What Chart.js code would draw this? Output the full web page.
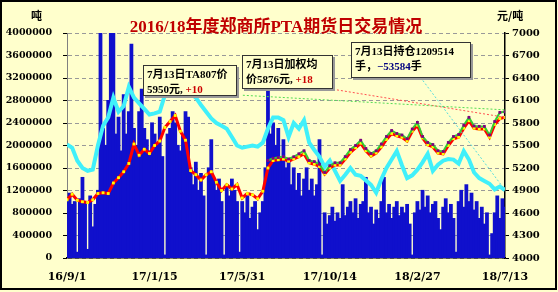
<!DOCTYPE html>
<html>
<head>
<meta charset="utf-8">
<script src="https://cdn.jsdelivr.net/npm/chart.js@4.4.1/dist/chart.umd.min.js"></script>
<style>
    body { margin: 0; background: #fff; }
    #wrap { position: relative; width: 558px; height: 292px; }
    #c { position: absolute; left: 0; top: 0; }
    .frame { position: absolute; left: 0; top: 0; width: 557px; height: 290px; border: 2px solid #000; box-sizing: border-box; pointer-events: none; }
    .title { position: absolute; left: 0; width: 552px; top: 12px; line-height: 20px; text-align: center; font: bold 17px "Liberation Serif", "Noto Sans CJK SC"; color: #C00000; }
    .unit { position: absolute; top: 8px; font: bold 11px "Noto Sans CJK SC"; line-height: 14px; }
    .box { position: absolute; border: 1.5px solid #333; background: #FFFFCC; box-shadow: 2px 2px 0 #999;
           font: bold 11px/15px "Liberation Serif", "Noto Sans CJK SC"; padding: 0 3px; box-sizing: border-box; white-space: nowrap; }
    .red { color: #CC0000; }
    .navy { color: #000080; }
</style>
</head>
<body>
<div id="wrap">
    <canvas id="c" width="558" height="292"></canvas>
    <div class="title">2016/18年度郑商所PTA期货日交易情况</div>
    <div class="unit" style="left:31px">吨</div>
    <div class="unit" style="left:497px">元/吨</div>
    <div class="box" style="left:143px;top:65px;width:94px;height:31px;padding-top:1px">7月13日TA807价<br>5950元, <span class="red">+10</span></div>
    <div class="box" style="left:242px;top:55px;width:91px;height:34px;padding-top:1px">7月13日加权均<br>价5876元, <span class="red">+18</span></div>
    <div class="box" style="left:351px;top:42px;width:120px;height:36px;padding-top:1px">7月13日持仓1209514<br>手，<span class="navy">−53584</span>手</div>
    <div class="frame"></div>
</div>
<script>
// x axis: days since 2016-09-01, ticks every 136 days
const tickLabels = ['16/9/1', '17/1/15', '17/5/31', '17/10/14', '18/2/27', '18/7/13'];
const volDays = Array.from({ length: 171 }, (_, i) => i * 4);
const priceDays = Array.from({ length: 86 }, (_, j) => j * 8);
const ta807Days = priceDays.slice(39);

// 成交量 (吨)
const volume = [
    1050000, 1150000, 950000, 1000000, 100000, 1050000, 1430000, 1000000, 150000, 1100000,
    550000, 950000, 1200000, 4300000, 2300000, 2000000, 2800000, 4300000, 4300000, 2200000,
    2500000, 1900000, 2900000, 2200000, 2600000, 3800000, 2300000, 2000000, 2600000, 3000000,
    2300000, 2100000, 1900000, 2400000, 2200000, 2000000, 2500000, 1800000, 50000, 2200000,
    2300000, 2600000, 2400000, 2000000, 1900000, 2200000, 2600000, 2500000, 1600000, 1300000,
    1700000, 1200000, 1500000, 1100000, 50000, 1600000, 2100000, 1400000, 1200000, 1400000,
    1000000, 50000, 1300000, 1100000, 1400000, 1200000, 1000000, 100000, 1000000, 800000,
    1100000, 700000, 900000, 1000000, 500000, 800000, 1000000, 1600000, 3200000, 2200000,
    2400000, 2000000, 2300000, 1800000, 2100000, 1600000, 1700000, 1300000, 1600000, 1200000,
    1500000, 1100000, 1400000, 1600000, 1200000, 1400000, 1100000, 1300000, 2100000, 50000,
    800000, 600000, 750000, 900000, 650000, 800000, 700000, 1300000, 750000, 900000,
    1000000, 800000, 1050000, 700000, 950000, 1000000, 1430000, 800000, 900000, 600000,
    850000, 700000, 1000000, 1430000, 800000, 950000, 700000, 900000, 1000000, 750000,
    900000, 800000, 950000, 600000, 50000, 800000, 1000000, 850000, 1200000, 900000,
    1100000, 800000, 950000, 1000000, 700000, 500000, 900000, 1050000, 800000, 950000,
    700000, 100000, 1000000, 1200000, 900000, 1300000, 1000000, 1150000, 850000, 1000000,
    700000, 900000, 600000, 800000, 50000, 430000, 800000, 1100000, 700000, 1050000,
    900000
];

// 持仓量 (吨)
const openInterest = [
    2020000, 1960000, 1730000, 1600000, 1550000, 1570000, 2000000, 2350000, 2500000, 2850000,
    2600000, 2700000, 3040000, 2850000, 2750000, 2650000, 2550000, 2570000, 2600000, 2900000,
    3150000, 3200000, 2950000, 2900000, 2920000, 2850000, 2720000, 2600000, 2480000, 2400000,
    2350000, 2300000, 2150000, 2000000, 1960000, 1980000, 2000000, 1980000, 2050000, 2300000,
    2500000, 2500000, 2450000, 2150000, 2400000, 2300000, 2450000, 2050000, 1920000, 1800000,
    1620000, 1730000, 1550000, 1370000, 1480000, 1600000, 1480000, 1460000, 1380000, 1300000,
    1160000, 1400000, 1600000, 1750000, 1900000, 1650000, 1420000, 1470000, 1570000, 1700000,
    1850000, 1550000, 1660000, 1730000, 1760000, 1750000, 1680000, 1900000, 1750000, 1520000,
    1420000, 1370000, 1320000, 1220000, 1270000, 1209514
];

// 加权均价 (元/吨)
const avgPrice = [
    4777, 4850, 4770, 4750, 4740, 4777, 4860, 4870, 4860, 5000,
    5071, 5150, 5260, 5520, 5370, 5450, 5393, 5500, 5560, 5741,
    5820, 5900, 5690, 5570, 5165, 5111, 5040, 5110, 5150, 5010,
    4900, 4977, 4920, 4980, 4800, 4860, 4843, 4790, 4890, 5200,
    5300, 5310, 5320, 5290, 5320, 5350, 5390, 5270, 5250, 5220,
    5120, 5200, 5240, 5240, 5320, 5410, 5470, 5530, 5430, 5360,
    5400, 5480, 5580, 5660, 5630, 5610, 5560, 5690, 5770, 5600,
    5510, 5480, 5400, 5390, 5500, 5590, 5610, 5730, 5830, 5730,
    5720, 5720, 5610, 5780, 5860, 5876
];

// TA807 价格 (元/吨)
const ta807Price = [
    5300, 5330, 5340, 5350, 5320, 5350, 5390, 5430, 5300, 5285,
    5250, 5140, 5230, 5270, 5270, 5352, 5446, 5500, 5570, 5460,
    5393, 5430, 5520, 5620, 5700, 5660, 5640, 5590, 5720, 5808,
    5620, 5540, 5513, 5430, 5420, 5540, 5620, 5647, 5770, 5875,
    5760, 5755, 5755, 5640, 5820, 5941, 5950
];

// callout pointers [day, value]
const pointerTa807 = [[273, 6170], [680, 5975]];
const pointerAvg = [[413, 6250], [680, 5876]];
const pointerOi = [[545, 3270000], [680, 1209514]];

const xy = (days, vals) => days.map((d, i) => ({ x: d, y: vals[i] }));
const pairs = arr => arr.map(p => ({ x: p[0], y: p[1] }));

const tickFont = { family: 'DejaVu Serif', weight: 'bold', size: 10 };

const bgPlugin = {
    id: 'bg',
    beforeDraw(chart) {
        const ctx = chart.ctx;
        ctx.save();
        ctx.fillStyle = '#FFFFCC';
        ctx.fillRect(0, 0, chart.width, chart.height);
        ctx.restore();
    }
};

new Chart(document.getElementById('c'), {
    data: {
        datasets: [
            {
                type: 'bar', label: '成交量', data: xy(volDays, volume), yAxisID: 'y',
                backgroundColor: '#1010CC', borderWidth: 0, barPercentage: 1, categoryPercentage: 1,
                inflateAmount: 0.6, order: 10
            },
            {
                type: 'line', label: '持仓量', data: xy(priceDays, openInterest), yAxisID: 'y',
                borderColor: '#40F0FA', borderWidth: 4, pointRadius: 0, tension: 0, order: 5
            },
            {
                type: 'line', label: '加权均价', data: xy(priceDays, avgPrice), yAxisID: 'y1',
                borderColor: '#FF0000', borderWidth: 3, pointStyle: 'rect', pointRadius: 2,
                pointBackgroundColor: '#FFFF00', pointBorderWidth: 0, tension: 0, order: 3
            },
            {
                type: 'line', label: 'TA807', data: xy(ta807Days, ta807Price), yAxisID: 'y1',
                borderColor: '#33CC33', borderWidth: 2, pointStyle: 'rect', pointRadius: 2,
                pointBackgroundColor: '#800080', pointBorderWidth: 0, tension: 0, order: 2
            },
            {
                type: 'line', data: pairs(pointerTa807), yAxisID: 'y1',
                borderColor: '#55DD55', borderWidth: 1, borderDash: [2, 2], pointRadius: 0, order: 1
            },
            {
                type: 'line', data: pairs(pointerAvg), yAxisID: 'y1',
                borderColor: '#FF5050', borderWidth: 1, borderDash: [2, 2], pointRadius: 0, order: 1
            },
            {
                type: 'line', data: pairs(pointerOi), yAxisID: 'y',
                borderColor: '#55DDDD', borderWidth: 1, borderDash: [2, 2], pointRadius: 0, order: 1
            }
        ]
    },
    options: {
        responsive: false,
        animation: false,
        layout: { padding: { top: 33, left: 0, right: 0, bottom: 0 } },
        plugins: { legend: { display: false }, tooltip: { enabled: false } },
        scales: {
            x: {
                type: 'linear', min: 0, max: 680, offset: false,
                ticks: {
                    stepSize: 136, autoSkip: false, maxRotation: 0, padding: 5, color: '#000',
                    font: { ...tickFont, size: 11 },
                    callback: v => tickLabels[Math.round(v / 136)]
                },
                grid: { display: false },
                border: { display: true, color: '#000', width: 1.5 },
                afterFit(s) { s.height = 34; }
            },
            y: {
                position: 'left', min: 0, max: 4000000,
                ticks: { stepSize: 400000, padding: 11, color: '#000', font: { ...tickFont, size: 9.5 }, callback: v => String(v) },
                grid: { color: '#999', tickColor: '#000', tickLength: 4 },
                border: { color: '#808080', width: 1, dash: [4, 3] },
                afterFit(s) { s.width = 67; }
            },
            y1: {
                position: 'right', min: 4000, max: 7000,
                ticks: { stepSize: 300, padding: 3, color: '#000', font: tickFont, callback: v => String(v) },
                grid: { drawOnChartArea: false, tickColor: '#000', tickLength: 4 },
                border: { color: '#000', width: 1.5 },
                afterFit(s) { s.width = 53; }
            }
        }
    },
    plugins: [bgPlugin]
});
</script>
</body>
</html>
